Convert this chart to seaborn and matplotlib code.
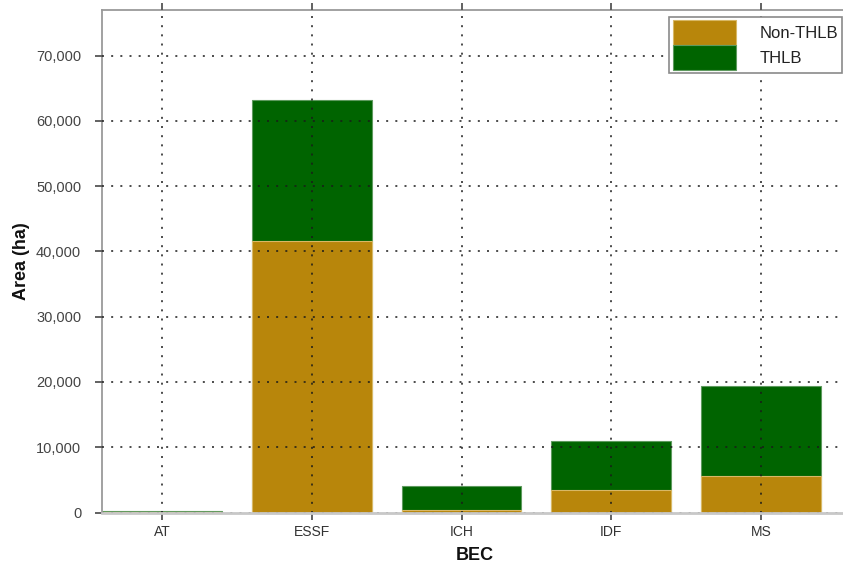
import matplotlib
matplotlib.use("Agg")
import matplotlib.pyplot as plt
from matplotlib.ticker import FuncFormatter
import numpy as np
import pandas as pd
import seaborn as sns

# Area by BEC zone, split into timber harvesting land base and the rest
bec_zones = ["AT", "ESSF", "ICH", "IDF", "MS"]
non_thlb_ha = [110, 41550, 450, 3500, 5580]
thlb_ha = [70, 21600, 3650, 7500, 13780]

series_labels = ["Non-THLB", "THLB"]
colors = {"Non-THLB": "#B8860B", "THLB": "#006400"}
edge_colors = {"Non-THLB": "#D8B866", "THLB": "#5E9A5E"}

df = pd.DataFrame({"BEC": bec_zones, "Non-THLB": non_thlb_ha, "THLB": thlb_ha})
df["Total"] = df["Non-THLB"] + df["THLB"]

sns.set_style("white")
plt.rcParams["font.family"] = ["Liberation Sans", "DejaVu Sans"]

fig = plt.figure(figsize=(8.43, 5.67), dpi=100)
W, H = 843, 567
ax_left, ax_right, ax_top, ax_bottom = 102, 848, 10, 512.5
ax = fig.add_axes([ax_left / W, 1 - ax_bottom / H,
                   (ax_right - ax_left) / W, (ax_bottom - ax_top) / H])

# stacked bars: full total in THLB green, Non-THLB drawn over the lower part
sns.barplot(data=df, x="BEC", y="Total", color=colors["THLB"], width=0.8,
            edgecolor=edge_colors["THLB"], linewidth=0.8, saturation=1,
            ax=ax, zorder=2)
sns.barplot(data=df, x="BEC", y="Non-THLB", color=colors["Non-THLB"], width=0.8,
            edgecolor=edge_colors["Non-THLB"], linewidth=0.8, saturation=1,
            ax=ax, zorder=2)

ax.set_xlim(-0.4, 4.58)
ax.set_ylim(0, 77000)
ax.set_yticks(np.arange(0, 70001, 10000))
ax.yaxis.set_major_formatter(FuncFormatter(lambda v, p: f"{int(v):,}"))

# dotted grid on both axes
grid_style = dict(color="#1a1a1a", linestyle=(0, (1.3, 4.7)), linewidth=1.1)
ax.grid(True, axis="both", **grid_style)
ax.set_axisbelow(False)
for gl in ax.get_xgridlines() + ax.get_ygridlines():
    gl.set_zorder(3)

for side in ["left", "top"]:
    ax.spines[side].set_visible(True)
    ax.spines[side].set_color("#9a9a9a")
    ax.spines[side].set_linewidth(1.3)
ax.spines["right"].set_visible(False)
ax.spines["bottom"].set_color("#c8c8c8")
ax.spines["bottom"].set_linewidth(2.0)
ax.spines["bottom"].set_zorder(4)

ax.tick_params(axis="x", which="both", direction="out", length=5, width=1.3,
               color="#555555", top=True, bottom=True, labelsize=10,
               labelcolor="#333333", pad=4)
ax.tick_params(axis="y", which="both", direction="out", length=5, width=1.3,
               color="#555555", left=True, labelsize=10.5,
               labelcolor="#444444", pad=10)

ax.set_xlabel("BEC", fontsize=13, fontweight="bold", color="#111111")
ax.set_ylabel("Area (ha)", fontsize=13, fontweight="bold", color="#111111")
ax.xaxis.label.set_va("center")
ax.yaxis.label.set_va("center")
ax.xaxis.set_label_coords(0.5, -(555 - ax_bottom) / (ax_bottom - ax_top))
ax.yaxis.set_label_coords((22 - ax_left) / (ax_right - ax_left), 0.5)

handles = [plt.Rectangle((0, 0), 1, 1, facecolor=colors[s],
                         edgecolor=edge_colors[s], linewidth=0.8)
           for s in series_labels]
leg = ax.legend(handles, series_labels, loc="upper right",
                bbox_to_anchor=(842 / W, 1 - 17 / H),
                bbox_transform=fig.transFigure, borderaxespad=0,
                fontsize=12, handlelength=3.8, handleheight=1.9,
                labelspacing=0.0, handletextpad=1.45, borderpad=0.2,
                fancybox=False, frameon=True, framealpha=1)
leg.get_frame().set_edgecolor("#8a8a8a")
leg.get_frame().set_linewidth(1.2)
leg.set_zorder(5)
for t in leg.get_texts():
    t.set_color("#222222")

fig.savefig("out.png", dpi=100)
